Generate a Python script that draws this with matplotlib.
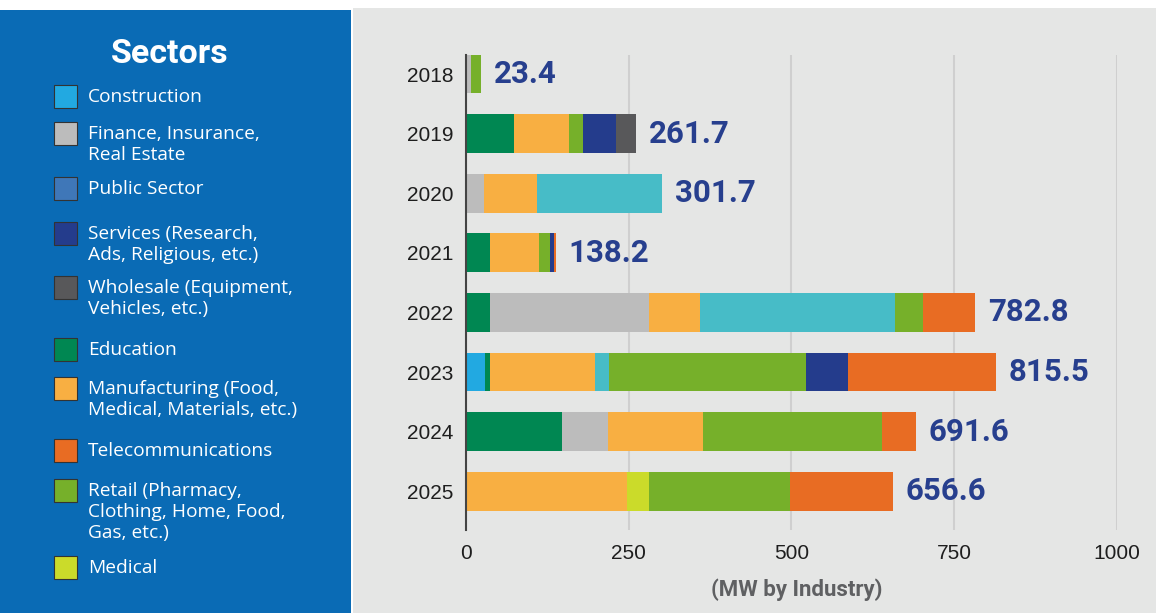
import matplotlib
matplotlib.use("Agg")
import matplotlib.pyplot as plt
from matplotlib.patches import Rectangle

W, H = 1156, 613
years = ['2018', '2019', '2020', '2021', '2022', '2023', '2024', '2025']
totals = [23.4, 261.7, 301.7, 138.2, 782.8, 815.5, 691.6, 656.6]

construction = [0, 0, 0, 0, 0, 29.4, 0, 0]
education = [0, 74.3, 0, 37.0, 37.1, 7.6, 147.7, 0]
finance = [8.0, 0, 28.3, 0, 243.6, 0, 70.6, 0]
manufacturing = [0, 84.2, 80.2, 75.5, 78.8, 161.2, 145.9, 247.7]
unlabeled_teal = [0, 0, 193.2, 0, 300.0, 21.8, 0, 0]
medical = [0, 0, 0, 0, 0, 0, 0, 33.5]
retail = [15.4, 22.1, 0, 16.6, 42.4, 302.4, 275.6, 217.1]
services = [0, 49.8, 0, 6.0, 0, 64.7, 0, 0]
wholesale = [0, 31.3, 0, 0, 0, 0, 0, 0]
telecom = [0, 0, 0, 3.1, 80.9, 228.4, 51.8, 158.3]

C = {
    'Construction': '#22a9e1', 'Finance': '#bcbcbc', 'Public': '#3f77b8',
    'Services': '#243c8c', 'Wholesale': '#58585a', 'Education': '#008752',
    'Manufacturing': '#f8af42', 'Telecom': '#e86c23', 'Retail': '#76b02a',
    'Medical': '#cbdb2a', 'Teal': '#47bcc7',
}

stack = [
    (construction, C['Construction']), (education, C['Education']),
    (finance, C['Finance']), (manufacturing, C['Manufacturing']),
    (unlabeled_teal, C['Teal']), (medical, C['Medical']),
    (retail, C['Retail']), (services, C['Services']),
    (wholesale, C['Wholesale']), (telecom, C['Telecom']),
]

legend_items = [
    ('Construction', C['Construction']),
    ('Finance, Insurance,\nReal Estate', C['Finance']),
    ('Public Sector', C['Public']),
    ('Services (Research,\nAds, Religious, etc.)', C['Services']),
    ('Wholesale (Equipment,\nVehicles, etc.)', C['Wholesale']),
    ('Education', C['Education']),
    ('Manufacturing (Food,\nMedical, Materials, etc.)', C['Manufacturing']),
    ('Telecommunications', C['Telecom']),
    ('Retail (Pharmacy,\nClothing, Home, Food,\nGas, etc.)', C['Retail']),
    ('Medical', C['Medical']),
]
square_centers = [96, 133, 188, 233, 287, 349, 388, 450, 490, 567]

fig = plt.figure(figsize=(W / 100, H / 100), dpi=100, facecolor='white')


def fx(px):
    return px / W


def fy(py):
    return 1 - py / H


# background panels
fig.patches.append(Rectangle((fx(353), 0), fx(W) - fx(353), fy(8), transform=fig.transFigure,
                             facecolor='#e5e6e5', edgecolor='none', zorder=-10))
fig.patches.append(Rectangle((0, 0), fx(351), fy(10), transform=fig.transFigure,
                             facecolor='#0a6bb5', edgecolor='none', zorder=-10))

# legend panel
fig.text(fx(170), fy(54), 'Sectors', color='white', fontsize=24.5, fontweight='bold',
         family='Roboto', ha='center', va='center')
for (label, col), cy in zip(legend_items, square_centers):
    s = 23
    fig.patches.append(Rectangle((fx(54), fy(cy + s / 2)), fx(s), s / H, transform=fig.transFigure,
                                 facecolor=col, edgecolor='#333333', linewidth=0.8, zorder=2))
    for i, line in enumerate(label.split('\n')):
        fig.text(fx(88), fy(cy + 1 + i * 21), line, color='white', fontsize=13.8,
                 family='Open Sans', ha='left', va='center')

# chart
ax = fig.add_axes([fx(466), fy(530), fx(1116.5) - fx(466), (530 - 55) / H])
ax.set_zorder(5)
ax.set_facecolor('none')
y = list(range(len(years)))
left = [0.0] * len(years)
for vals, col in stack:
    ax.barh(y, vals, left=left, height=0.65, color=col, edgecolor='none', zorder=3)
    left = [a + b for a, b in zip(left, vals)]

for yi, t in zip(y, totals):
    ax.annotate(f'{t:.1f}', xy=(t, yi), xytext=(9, 0), textcoords='offset points',
                ha='left', va='center', fontsize=22.5, fontweight='bold', family='Roboto',
                color='#273f8e', zorder=4)

ax.set_xlim(0, 1000)
ax.set_ylim(7.65, -0.32)
ax.set_yticks(y)
ax.set_yticklabels(years)
ax.set_xticks([0, 250, 500, 750, 1000])
ax.set_xticklabels(['0', '250', '500', '750', '1000'])
ax.tick_params(axis='both', length=0, labelsize=15, labelcolor='#1e1e1e')
ax.tick_params(axis='x', pad=10)
ax.tick_params(axis='y', pad=9)
for lab in ax.get_xticklabels() + ax.get_yticklabels():
    lab.set_family('Liberation Sans')
for s in ['top', 'right', 'bottom']:
    ax.spines[s].set_visible(False)
ax.spines['left'].set_color('#444444')
ax.spines['left'].set_linewidth(1.5)
ax.spines['left'].set_zorder(5)
ax.grid(axis='x', color='#cfcfcf', linewidth=1.5, zorder=1)
ax.grid(axis='y', visible=False)
ax.set_axisbelow(True)

fig.text(fx(797), fy(590), '(MW by Industry)', color='#5f6062', fontsize=16,
         fontweight='bold', family='Roboto', ha='center', va='center')

fig.savefig('out.png', dpi=100, facecolor=fig.get_facecolor())
